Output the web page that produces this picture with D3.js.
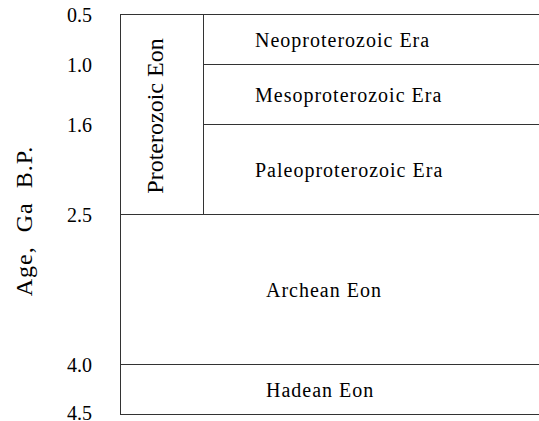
<!DOCTYPE html>
<html>
<head>
<meta charset="utf-8">
<script src="https://cdn.jsdelivr.net/npm/d3@7"></script>
<style>
  html, body { margin: 0; padding: 0; background: #fff; }
  svg { display: block; }
</style>
</head>
<body>
<svg id="chart" width="539" height="421" font-family="Liberation Serif"></svg>
<script>
// ---- data ----
const tickValues = [0.5, 1.0, 1.6, 2.5, 4.0, 4.5];
const tickLabels = ["0.5", "1.0", "1.6", "2.5", "4.0", "4.5"];
const eraNames = ["Neoproterozoic Era", "Mesoproterozoic Era", "Paleoproterozoic Era"];
const eraStart = [0.5, 1.0, 1.6];
const eraEnd = [1.0, 1.6, 2.5];
const eonNames = ["Proterozoic Eon", "Archean Eon", "Hadean Eon"];
const eonStart = [0.5, 2.5, 4.0];
const eonEnd = [2.5, 4.0, 4.5];
const axisTitle = "Age,  Ga  B.P.";

// ---- layout ----
const FONT = "Liberation Serif";
const left = 120, eonCol = 203, right = 539;
const svg = d3.select("#chart");
const y = d3.scaleLinear().domain([0.5, 4.5]).range([14, 414]);
const lineColor = "#333";

// y axis labels
const axis = d3.axisLeft(y)
  .tickValues(tickValues)
  .tickFormat((d, i) => tickLabels[i])
  .tickSize(0)
  .tickPadding(28);
const gAxis = svg.append("g").attr("transform", `translate(${left},0)`).call(axis)
  .attr("font-family", FONT).attr("font-size", 20);
gAxis.select(".domain").remove();
gAxis.selectAll("text")
  .attr("font-family", FONT)
  .attr("font-size", 20)
  .attr("fill", "#000")
  .attr("dy", (d, i) => i === tickValues.length - 1 ? "0.26em" : "0.38em");

// axis title
svg.append("text")
  .attr("transform", `translate(32,${(y(0.5) + y(4.5)) / 2 + 7}) rotate(-90)`)
  .attr("text-anchor", "middle")
  .attr("font-family", FONT)
  .attr("font-size", 24)
  .attr("letter-spacing", 1)
  .attr("fill", "#000")
  .attr("xml:space", "preserve")
  .style("white-space", "pre")
  .text(axisTitle);

const lines = svg.append("g").attr("stroke", lineColor).attr("stroke-width", 1).attr("shape-rendering", "crispEdges");

// eon boundaries (full width)
const eonBounds = Array.from(new Set(eonStart.concat(eonEnd)));
lines.selectAll("line.eon").data(eonBounds).join("line")
  .attr("class", "eon")
  .attr("x1", left).attr("x2", right)
  .attr("y1", d => Math.round(y(d)) + 0.5).attr("y2", d => Math.round(y(d)) + 0.5);

// era boundaries (inner only)
const eraBounds = eraStart.filter(d => !eonBounds.includes(d));
lines.selectAll("line.era").data(eraBounds).join("line")
  .attr("class", "era")
  .attr("x1", eonCol).attr("x2", right)
  .attr("y1", d => Math.round(y(d)) + 0.5).attr("y2", d => Math.round(y(d)) + 0.5);

// verticals
lines.append("line").attr("x1", left + 0.5).attr("x2", left + 0.5)
  .attr("y1", y(0.5)).attr("y2", y(4.5));
lines.append("line").attr("x1", eonCol + 0.5).attr("x2", eonCol + 0.5)
  .attr("y1", y(eraStart[0])).attr("y2", y(eraEnd[eraEnd.length - 1]));

// era labels
svg.selectAll("text.era").data(eraNames).join("text")
  .attr("class", "era")
  .attr("x", eonCol + 52)
  .attr("y", (d, i) => (y(eraStart[i]) + y(eraEnd[i])) / 2)
  .attr("dy", "0.38em")
  .attr("font-family", FONT)
  .attr("font-size", 20)
  .attr("letter-spacing", 1)
  .attr("fill", "#000")
  .text(d => d);

// Proterozoic eon label (rotated)
svg.append("text")
  .attr("transform", `translate(${(left + eonCol) / 2 + 1},${(y(eonStart[0]) + y(eonEnd[0])) / 2 + 2}) rotate(-90)`)
  .attr("text-anchor", "middle")
  .attr("font-family", FONT)
  .attr("font-size", 24)
  .attr("fill", "#000")
  .text(eonNames[0]);

// Archean & Hadean labels
svg.selectAll("text.eonlbl").data([1, 2]).join("text")
  .attr("class", "eonlbl")
  .attr("x", left + 146)
  .attr("y", i => (y(eonStart[i]) + y(eonEnd[i])) / 2)
  .attr("dy", "0.38em")
  .attr("font-family", FONT)
  .attr("font-size", 20)
  .attr("letter-spacing", 1)
  .attr("fill", "#000")
  .text(i => eonNames[i]);
</script>
</body>
</html>
